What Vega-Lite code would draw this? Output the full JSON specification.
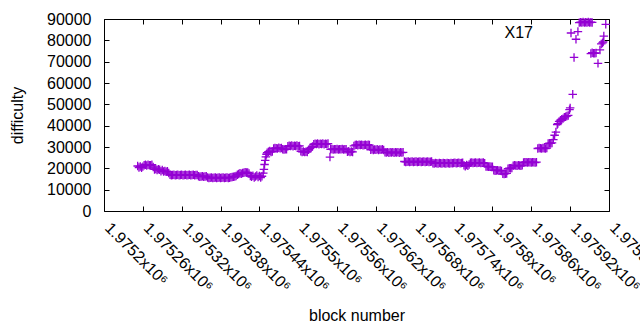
{
"$schema":"https://vega.github.io/schema/vega-lite/v6.json",
"width":505,"height":192,"autosize":"none",
"padding":{"left":104,"top":19,"right":31,"bottom":119},
"background":"white",
"config":{"view":{"stroke":"black","strokeWidth":1},"font":"Liberation Sans"},
"data":{"values":[
{"block":1975252,"difficulty":21100},{"block":1975254,"difficulty":20400},{"block":1975256,"difficulty":20900},{"block":1975258,"difficulty":20300},{"block":1975260,"difficulty":20800},{"block":1975262,"difficulty":21500},{"block":1975264,"difficulty":21700},{"block":1975266,"difficulty":21300},{"block":1975268,"difficulty":21700},{"block":1975270,"difficulty":21500},{"block":1975272,"difficulty":21400},{"block":1975274,"difficulty":21700},{"block":1975276,"difficulty":20600},{"block":1975278,"difficulty":19500},{"block":1975280,"difficulty":19700},{"block":1975282,"difficulty":19200},{"block":1975284,"difficulty":19600},{"block":1975286,"difficulty":19300},{"block":1975288,"difficulty":18600},{"block":1975290,"difficulty":19200},{"block":1975292,"difficulty":18500},{"block":1975294,"difficulty":18700},{"block":1975296,"difficulty":18400},{"block":1975298,"difficulty":18600},{"block":1975300,"difficulty":17800},
{"block":1975302,"difficulty":17000},{"block":1975304,"difficulty":16800},{"block":1975306,"difficulty":16900},{"block":1975308,"difficulty":17000},{"block":1975310,"difficulty":16800},{"block":1975312,"difficulty":16900},{"block":1975314,"difficulty":17000},{"block":1975316,"difficulty":16800},{"block":1975318,"difficulty":16900},{"block":1975320,"difficulty":17000},{"block":1975322,"difficulty":16800},{"block":1975324,"difficulty":16900},{"block":1975326,"difficulty":17000},{"block":1975328,"difficulty":16800},{"block":1975330,"difficulty":16900},{"block":1975332,"difficulty":17000},{"block":1975334,"difficulty":16800},{"block":1975336,"difficulty":16900},{"block":1975338,"difficulty":17000},{"block":1975340,"difficulty":16800},{"block":1975342,"difficulty":16900},{"block":1975344,"difficulty":16900},
{"block":1975346,"difficulty":16300},{"block":1975348,"difficulty":16100},{"block":1975350,"difficulty":16200},{"block":1975352,"difficulty":16300},{"block":1975354,"difficulty":16100},{"block":1975356,"difficulty":16200},{"block":1975358,"difficulty":16300},
{"block":1975360,"difficulty":15700},{"block":1975362,"difficulty":15500},{"block":1975364,"difficulty":15600},{"block":1975366,"difficulty":15700},{"block":1975368,"difficulty":15500},{"block":1975370,"difficulty":15600},{"block":1975372,"difficulty":15700},{"block":1975374,"difficulty":15500},{"block":1975376,"difficulty":15600},{"block":1975378,"difficulty":15700},{"block":1975380,"difficulty":15500},{"block":1975382,"difficulty":15600},{"block":1975384,"difficulty":15700},{"block":1975386,"difficulty":15500},{"block":1975388,"difficulty":15600},{"block":1975390,"difficulty":15700},{"block":1975392,"difficulty":15500},{"block":1975394,"difficulty":15600},{"block":1975396,"difficulty":15800},{"block":1975398,"difficulty":15900},
{"block":1975400,"difficulty":16100},{"block":1975402,"difficulty":16200},{"block":1975404,"difficulty":16400},
{"block":1975406,"difficulty":17000},{"block":1975408,"difficulty":17300},{"block":1975410,"difficulty":17700},{"block":1975412,"difficulty":17500},{"block":1975414,"difficulty":17800},{"block":1975416,"difficulty":17900},{"block":1975418,"difficulty":18200},{"block":1975420,"difficulty":18000},{"block":1975422,"difficulty":18100},{"block":1975424,"difficulty":17600},
{"block":1975426,"difficulty":16400},{"block":1975428,"difficulty":16000},{"block":1975430,"difficulty":16500},{"block":1975432,"difficulty":15700},{"block":1975434,"difficulty":16200},{"block":1975436,"difficulty":16600},{"block":1975438,"difficulty":15900},{"block":1975440,"difficulty":16400},{"block":1975442,"difficulty":15700},{"block":1975444,"difficulty":16300},
{"block":1975446,"difficulty":17800},{"block":1975447,"difficulty":19500},{"block":1975448,"difficulty":21800},{"block":1975449,"difficulty":23700},{"block":1975450,"difficulty":25400},{"block":1975451,"difficulty":26600},{"block":1975452,"difficulty":27300},
{"block":1975454,"difficulty":27800},{"block":1975456,"difficulty":28100},{"block":1975458,"difficulty":27700},{"block":1975460,"difficulty":27900},
{"block":1975462,"difficulty":29300},{"block":1975464,"difficulty":29500},{"block":1975466,"difficulty":29400},{"block":1975468,"difficulty":29300},{"block":1975470,"difficulty":29600},{"block":1975472,"difficulty":29400},{"block":1975474,"difficulty":29500},
{"block":1975476,"difficulty":29000},{"block":1975478,"difficulty":28800},{"block":1975480,"difficulty":29000},{"block":1975482,"difficulty":28900},
{"block":1975484,"difficulty":30300},{"block":1975486,"difficulty":30600},{"block":1975488,"difficulty":30500},{"block":1975490,"difficulty":30700},{"block":1975492,"difficulty":30400},{"block":1975494,"difficulty":30600},{"block":1975496,"difficulty":30500},{"block":1975498,"difficulty":30700},{"block":1975500,"difficulty":30400},{"block":1975502,"difficulty":30500},
{"block":1975504,"difficulty":28000},{"block":1975506,"difficulty":27700},{"block":1975508,"difficulty":27900},{"block":1975510,"difficulty":27600},{"block":1975512,"difficulty":27800},{"block":1975514,"difficulty":27700},
{"block":1975516,"difficulty":28700},{"block":1975518,"difficulty":29300},{"block":1975520,"difficulty":29800},{"block":1975522,"difficulty":30200},
{"block":1975524,"difficulty":31300},{"block":1975526,"difficulty":31500},{"block":1975528,"difficulty":31400},{"block":1975530,"difficulty":31600},{"block":1975532,"difficulty":31300},{"block":1975534,"difficulty":31500},{"block":1975536,"difficulty":31400},{"block":1975538,"difficulty":31600},{"block":1975540,"difficulty":31300},{"block":1975542,"difficulty":31500},{"block":1975544,"difficulty":31400},{"block":1975546,"difficulty":31600},
{"block":1975549,"difficulty":25300},
{"block":1975550,"difficulty":28900},{"block":1975552,"difficulty":29100},{"block":1975554,"difficulty":28800},{"block":1975556,"difficulty":29000},{"block":1975558,"difficulty":28900},{"block":1975560,"difficulty":29100},{"block":1975562,"difficulty":28800},{"block":1975564,"difficulty":29000},{"block":1975566,"difficulty":28900},{"block":1975568,"difficulty":29100},{"block":1975570,"difficulty":28800},{"block":1975572,"difficulty":29000},{"block":1975574,"difficulty":28900},
{"block":1975576,"difficulty":27800},{"block":1975578,"difficulty":28000},{"block":1975580,"difficulty":27600},{"block":1975582,"difficulty":27900},{"block":1975584,"difficulty":27700},
{"block":1975586,"difficulty":30500},{"block":1975588,"difficulty":30900},{"block":1975590,"difficulty":31000},{"block":1975592,"difficulty":30800},{"block":1975594,"difficulty":31100},{"block":1975596,"difficulty":30900},{"block":1975598,"difficulty":31000},{"block":1975600,"difficulty":30800},{"block":1975602,"difficulty":30900},{"block":1975604,"difficulty":31000},{"block":1975606,"difficulty":30800},{"block":1975608,"difficulty":31100},{"block":1975610,"difficulty":30900},
{"block":1975612,"difficulty":28700},{"block":1975614,"difficulty":28900},{"block":1975616,"difficulty":28600},{"block":1975618,"difficulty":28800},{"block":1975620,"difficulty":28700},{"block":1975622,"difficulty":28900},{"block":1975624,"difficulty":28600},{"block":1975626,"difficulty":28800},{"block":1975628,"difficulty":28700},{"block":1975630,"difficulty":28900},{"block":1975632,"difficulty":28600},
{"block":1975634,"difficulty":27500},{"block":1975636,"difficulty":27400},{"block":1975638,"difficulty":27600},{"block":1975640,"difficulty":27300},{"block":1975642,"difficulty":27500},{"block":1975644,"difficulty":27400},{"block":1975646,"difficulty":27600},{"block":1975648,"difficulty":27300},{"block":1975650,"difficulty":27500},{"block":1975652,"difficulty":27400},{"block":1975654,"difficulty":27600},{"block":1975656,"difficulty":27300},{"block":1975658,"difficulty":27500},{"block":1975660,"difficulty":27400},{"block":1975662,"difficulty":27500},
{"block":1975664,"difficulty":23200},{"block":1975666,"difficulty":23000},{"block":1975668,"difficulty":23100},{"block":1975670,"difficulty":23200},{"block":1975672,"difficulty":23000},{"block":1975674,"difficulty":23100},{"block":1975676,"difficulty":23200},{"block":1975678,"difficulty":23000},{"block":1975680,"difficulty":23100},{"block":1975682,"difficulty":23200},{"block":1975684,"difficulty":23000},{"block":1975686,"difficulty":23100},{"block":1975688,"difficulty":23200},{"block":1975690,"difficulty":23000},{"block":1975692,"difficulty":23100},{"block":1975694,"difficulty":23200},{"block":1975696,"difficulty":23000},{"block":1975698,"difficulty":23100},{"block":1975700,"difficulty":23200},{"block":1975702,"difficulty":23000},{"block":1975704,"difficulty":23100},{"block":1975706,"difficulty":23200},
{"block":1975708,"difficulty":22400},{"block":1975710,"difficulty":22300},{"block":1975712,"difficulty":22500},{"block":1975714,"difficulty":22400},{"block":1975716,"difficulty":22300},{"block":1975718,"difficulty":22500},{"block":1975720,"difficulty":22400},{"block":1975722,"difficulty":22300},{"block":1975724,"difficulty":22500},{"block":1975726,"difficulty":22400},{"block":1975728,"difficulty":22300},{"block":1975730,"difficulty":22500},{"block":1975732,"difficulty":22400},{"block":1975734,"difficulty":22300},{"block":1975736,"difficulty":22500},{"block":1975738,"difficulty":22400},
{"block":1975740,"difficulty":22500},{"block":1975742,"difficulty":22600},{"block":1975744,"difficulty":22400},{"block":1975746,"difficulty":22500},{"block":1975748,"difficulty":22600},{"block":1975750,"difficulty":22400},{"block":1975752,"difficulty":22500},{"block":1975754,"difficulty":22600},
{"block":1975756,"difficulty":21400},{"block":1975758,"difficulty":21000},{"block":1975760,"difficulty":21600},{"block":1975762,"difficulty":21200},{"block":1975764,"difficulty":21800},
{"block":1975766,"difficulty":22600},{"block":1975768,"difficulty":22700},{"block":1975770,"difficulty":22500},{"block":1975772,"difficulty":22600},{"block":1975774,"difficulty":22700},{"block":1975776,"difficulty":22500},{"block":1975778,"difficulty":22600},{"block":1975780,"difficulty":22700},{"block":1975782,"difficulty":22500},{"block":1975784,"difficulty":22600},{"block":1975786,"difficulty":22700},{"block":1975788,"difficulty":22400},
{"block":1975790,"difficulty":20900},{"block":1975792,"difficulty":20800},{"block":1975794,"difficulty":20700},{"block":1975796,"difficulty":20900},{"block":1975798,"difficulty":20800},{"block":1975800,"difficulty":20700},
{"block":1975802,"difficulty":19100},{"block":1975804,"difficulty":18900},{"block":1975806,"difficulty":19000},{"block":1975808,"difficulty":19100},{"block":1975810,"difficulty":18900},{"block":1975812,"difficulty":19000},{"block":1975814,"difficulty":18800},
{"block":1975816,"difficulty":17400},{"block":1975818,"difficulty":17300},{"block":1975820,"difficulty":17500},{"block":1975822,"difficulty":17600},
{"block":1975824,"difficulty":19800},{"block":1975826,"difficulty":20100},{"block":1975828,"difficulty":20000},{"block":1975830,"difficulty":20200},
{"block":1975832,"difficulty":21200},{"block":1975834,"difficulty":21400},{"block":1975836,"difficulty":21300},{"block":1975838,"difficulty":21200},{"block":1975840,"difficulty":21400},{"block":1975842,"difficulty":21300},{"block":1975844,"difficulty":21200},{"block":1975846,"difficulty":21400},
{"block":1975848,"difficulty":22700},{"block":1975850,"difficulty":22900},{"block":1975852,"difficulty":22800},{"block":1975854,"difficulty":22700},{"block":1975856,"difficulty":22900},{"block":1975858,"difficulty":22800},{"block":1975860,"difficulty":22700},{"block":1975862,"difficulty":22900},{"block":1975864,"difficulty":22800},{"block":1975866,"difficulty":22700},{"block":1975868,"difficulty":22900},
{"block":1975870,"difficulty":29300},{"block":1975872,"difficulty":29500},{"block":1975874,"difficulty":29400},{"block":1975876,"difficulty":29300},{"block":1975878,"difficulty":29500},{"block":1975880,"difficulty":29400},{"block":1975882,"difficulty":29300},{"block":1975884,"difficulty":29500},
{"block":1975886,"difficulty":31600},{"block":1975888,"difficulty":31800},{"block":1975890,"difficulty":31700},{"block":1975892,"difficulty":31900},
{"block":1975894,"difficulty":33500},{"block":1975896,"difficulty":35500},{"block":1975898,"difficulty":37000},
{"block":1975900,"difficulty":40500},{"block":1975901,"difficulty":41000},{"block":1975903,"difficulty":42000},{"block":1975905,"difficulty":42600},{"block":1975907,"difficulty":43000},{"block":1975909,"difficulty":43300},
{"block":1975911,"difficulty":44000},{"block":1975913,"difficulty":44200},{"block":1975915,"difficulty":44500},{"block":1975917,"difficulty":44800},
{"block":1975919,"difficulty":47500},{"block":1975920,"difficulty":48300},
{"block":1975924,"difficulty":54700},{"block":1975926,"difficulty":72000},{"block":1975929,"difficulty":80500},{"block":1975932,"difficulty":84100},
{"block":1975934,"difficulty":88300},{"block":1975936,"difficulty":88500},{"block":1975938,"difficulty":88400},{"block":1975940,"difficulty":88600},{"block":1975942,"difficulty":88300},{"block":1975944,"difficulty":88500},{"block":1975946,"difficulty":88400},{"block":1975948,"difficulty":88600},{"block":1975950,"difficulty":88300},{"block":1975952,"difficulty":88500},{"block":1975954,"difficulty":88400},
{"block":1975952,"difficulty":73800},{"block":1975954,"difficulty":74200},{"block":1975956,"difficulty":74000},{"block":1975958,"difficulty":73900},{"block":1975960,"difficulty":74100},
{"block":1975963,"difficulty":69200},{"block":1975966,"difficulty":75500},{"block":1975968,"difficulty":78300},{"block":1975970,"difficulty":78800},{"block":1975971,"difficulty":79300},{"block":1975972,"difficulty":82000},{"block":1975975,"difficulty":87500}
]},
"layer":[
{"mark":{"type":"point","shape":"M-1,0L1,0M0,-1L0,1","filled":false,"strokeWidth":1.3,"size":72,"opacity":1},
 "encoding":{
  "x":{"field":"block","type":"quantitative","scale":{"domain":[1975200,1975980],"nice":false,"zero":false},
   "axis":{"orient":"bottom","values":[1975200,1975260,1975320,1975380,1975440,1975500,1975560,1975620,1975680,1975740,1975800,1975860,1975920,1975980],
    "domain":false,"grid":false,"ticks":true,"tickSize":-5,"tickColor":"black","tickWidth":1,
    "labelAngle":45,"labelAlign":"left","labelBaseline":"middle","labelPadding":19,"labelOffset":3,"labelFont":"Liberation Sans","labelFontSize":16,"labelColor":"black",
    "labelExpr":"format(datum.value/1000000,'.6~g')+'x10⁶'","labelOverlap":false,"labelFlush":false,"labelBound":false,
    "title":"block number","titleFont":"Liberation Sans","titleFontSize":16,"titleFontWeight":"normal","titleColor":"black","titleX":252.5,"titleY":109,"titleBaseline":"alphabetic","titleAnchor":"middle"}},
  "y":{"field":"difficulty","type":"quantitative","scale":{"domain":[0,90000],"nice":false},
   "axis":{"orient":"left","values":[0,10000,20000,30000,40000,50000,60000,70000,80000,90000],
    "domain":false,"grid":false,"ticks":true,"tickSize":-5,"tickColor":"black","tickWidth":1,
    "labelPadding":18,"labelFont":"Liberation Sans","labelFontSize":16,"labelColor":"black","labelFlush":false,"labelOverlap":false,"format":"d",
    "title":"difficulty","titleFont":"Liberation Sans","titleFontSize":16,"titleFontWeight":"normal","titleColor":"black","titleX":-82,"titleY":96,"titleBaseline":"alphabetic","titleAnchor":"middle"}},
  "color":{"datum":"X17","type":"nominal","scale":{"range":["#9400D3"]},
   "legend":{"orient":"none","legendX":459,"legendY":6,"title":null,"padding":0,"labelFont":"Liberation Sans","labelFontSize":16,"labelColor":"black","labelAlign":"right","labelOffset":-46,
    "symbolType":"M-1,0L1,0M0,-1L0,1","symbolSize":72,"symbolStrokeWidth":1.3,"symbolFillColor":"transparent","symbolStrokeColor":"#9400D3"}}
 }},
{"mark":{"type":"point","opacity":0},
 "encoding":{
  "x":{"field":"block","type":"quantitative","scale":{"domain":[1975200,1975980],"nice":false,"zero":false},
   "axis":{"orient":"top","values":[1975200,1975260,1975320,1975380,1975440,1975500,1975560,1975620,1975680,1975740,1975800,1975860,1975920,1975980],"domain":false,"grid":false,"labels":false,"ticks":true,"tickSize":-5,"tickColor":"black","tickWidth":1,"title":null}},
  "y":{"field":"difficulty","type":"quantitative","scale":{"domain":[0,90000],"nice":false},
   "axis":{"orient":"right","values":[0,10000,20000,30000,40000,50000,60000,70000,80000,90000],"domain":false,"grid":false,"labels":false,"ticks":true,"tickSize":-5,"tickColor":"black","tickWidth":1,"title":null}}
 }}
],
"resolve":{"axis":{"x":"independent","y":"independent"}}
}
